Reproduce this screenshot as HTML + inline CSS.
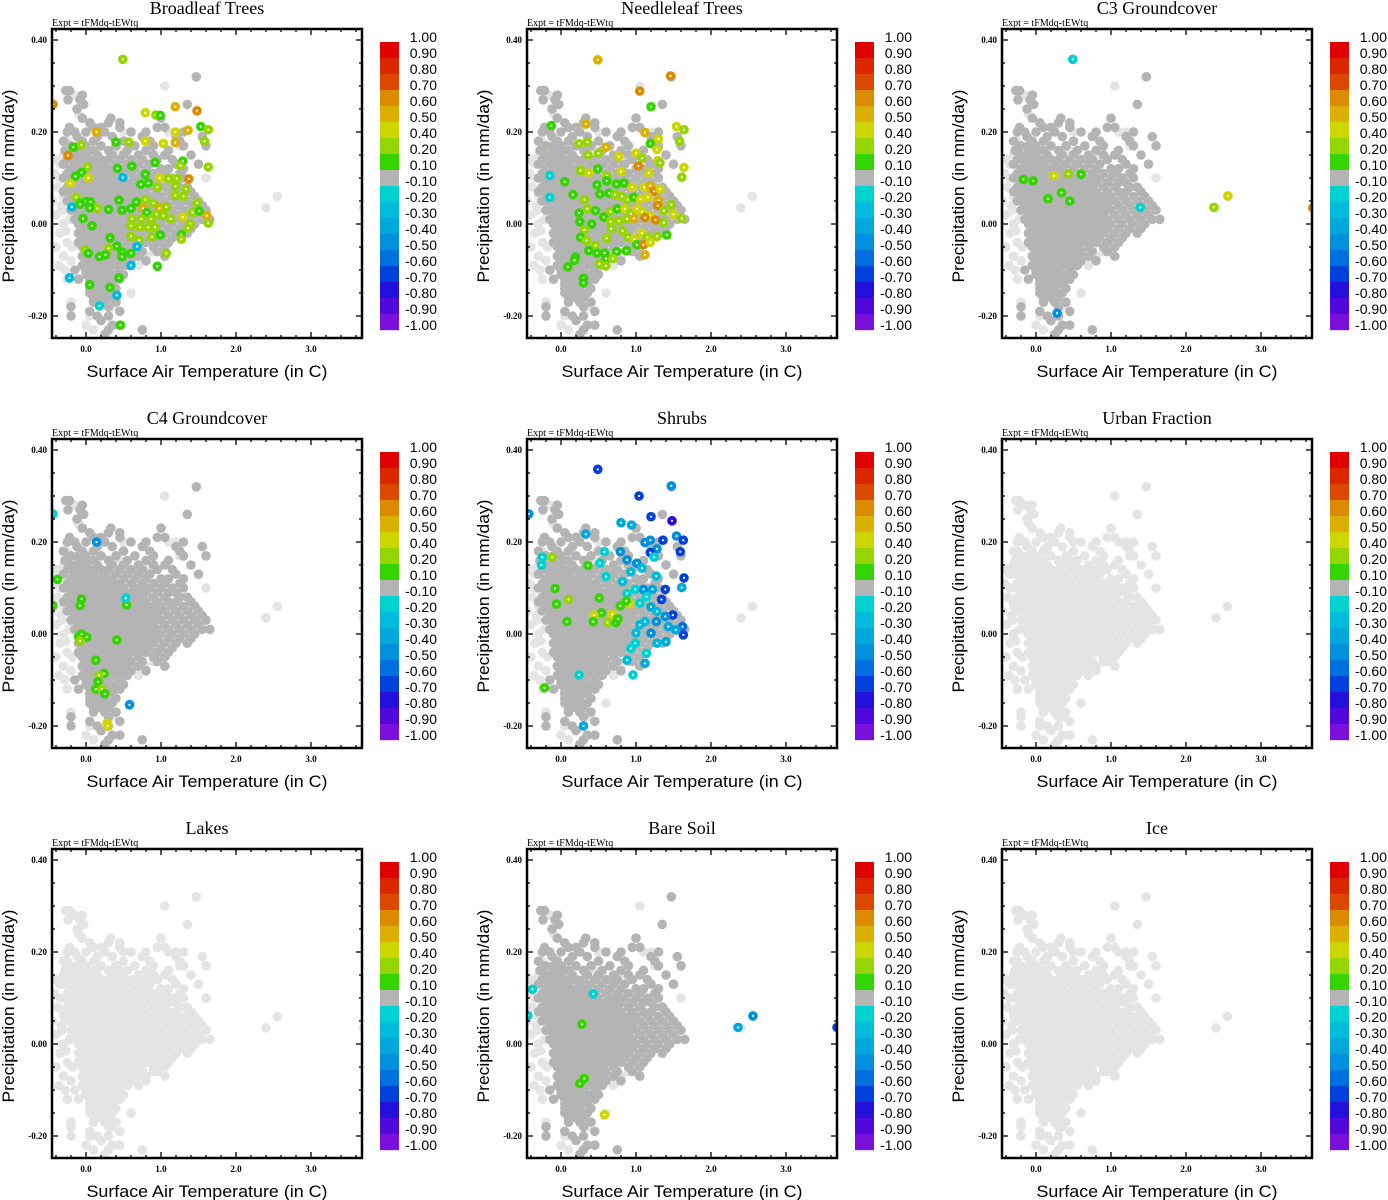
<!DOCTYPE html>
<html><head><meta charset="utf-8"><style>
html,body{margin:0;padding:0;background:#fff;}
svg{display:block;}
</style></head><body>
<svg id="fig" width="1388" height="1200" viewBox="0 0 1388 1200" xmlns="http://www.w3.org/2000/svg">
<defs><clipPath id="plotclip"><rect x="53" y="30" width="308" height="307"/></clipPath></defs>
</svg>
<script>
// ---------- shared point cloud (temperature x, precipitation y) ----------
const cloudY = [0.32,0.29,0.28,0.27,0.26,0.25,0.23,0.22,0.21,0.20,
0.19,0.18,0.17,0.16,0.15,0.14,0.13,0.12,0.11,0.10,0.09,0.08,0.07,0.06,0.05,0.04,0.03,0.02,0.01,0.00,
-0.01,-0.02,-0.03,-0.04,-0.05,-0.06,-0.07,-0.08,-0.09,-0.10,-0.11,-0.12,-0.13,-0.14,-0.15,-0.16,-0.17,-0.18,-0.19,-0.20,-0.21,-0.22,-0.23,-0.24];
const cloudX = [
[1.47],
[-0.27,-0.22],
[-0.05],
[-0.24,-0.08],
[-0.03,1.35],
[-0.12],
[0.33,-0.05,1.0],
[0.30,0.05,0.45],
[-0.22,0.1,0.2,0.45,0.95,1.05],
[-0.25,-0.15,0.0,0.25,0.6,0.8,1.3],
[-0.12,0.15,0.35,0.75,1.2,1.55],
[-0.3,-0.05,0.1,0.5,0.85,1.25],
[-0.2,-0.1,0.0,0.2,0.4,0.65,0.9,1.3,1.6],
[-0.28,-0.1,0.0,0.1,0.3,0.55,0.8,1.1],
[-0.2,-0.1,0.0,0.15,0.35,0.5,0.7,0.9,1.05,1.4],
[-0.25,-0.15,-0.05,0.05,0.15,0.2,0.3,0.45,0.6,0.75,0.95,1.15],
[-0.3,-0.15,-0.05,0.0,0.1,0.25,0.4,0.55,0.7,0.85,1.2,1.5],
[-0.2,-0.1,0.0,0.1,0.2,0.3,0.35,0.5,0.65,0.8,1.0,1.1,1.3],
[-0.25,-0.15,-0.05,0.05,0.15,0.25,0.35,0.45,0.6,0.75,0.9,1.05,1.25],
[-0.3,-0.2,-0.1,0.0,0.1,0.2,0.3,0.4,0.5,0.65,0.75,0.85,1.0,1.15,1.3],
[-0.2,-0.1,0.0,0.1,0.2,0.3,0.4,0.5,0.6,0.7,0.8,0.95,1.1,1.2],
[-0.25,-0.15,-0.05,0.05,0.15,0.25,0.35,0.45,0.55,0.65,0.75,0.9,1.05,1.25,1.35],
[-0.3,-0.2,-0.1,0.0,0.1,0.2,0.3,0.4,0.5,0.6,0.7,0.8,0.95,1.1,1.2,1.4],
[-0.2,-0.1,0.0,0.1,0.2,0.3,0.4,0.5,0.6,0.7,0.8,0.9,1.0,1.15,1.3,1.45],
[-0.25,-0.15,-0.05,0.05,0.15,0.25,0.35,0.45,0.55,0.65,0.75,0.85,0.95,1.05,1.2,1.35,1.5],
[-0.15,-0.05,0.05,0.15,0.25,0.35,0.45,0.55,0.65,0.75,0.85,0.95,1.1,1.25,1.4,1.55],
[-0.2,-0.1,0.0,0.1,0.2,0.3,0.4,0.5,0.6,0.7,0.8,0.9,1.0,1.15,1.3,1.45,1.6],
[-0.1,0.0,0.1,0.2,0.3,0.4,0.5,0.6,0.7,0.8,0.9,1.05,1.2,1.35,1.5],
[-0.15,-0.05,0.05,0.15,0.25,0.35,0.45,0.55,0.65,0.75,0.85,0.95,1.1,1.25,1.4,1.55,1.65],
[-0.1,0.0,0.1,0.2,0.3,0.4,0.5,0.6,0.7,0.8,0.9,1.0,1.15,1.3,1.45],
[-0.05,0.05,0.15,0.25,0.35,0.45,0.55,0.65,0.75,0.85,0.95,1.1,1.25,1.4],
[-0.1,0.0,0.1,0.2,0.3,0.4,0.5,0.6,0.7,0.8,0.9,1.05,1.2,1.35],
[-0.05,0.05,0.15,0.25,0.35,0.45,0.55,0.65,0.75,0.85,1.0,1.15],
[-0.1,0.0,0.1,0.2,0.3,0.4,0.5,0.6,0.7,0.8,0.95,1.1],
[-0.05,0.05,0.15,0.25,0.35,0.45,0.55,0.7,0.9,1.05],
[0.0,0.1,0.2,0.3,0.4,0.5,0.6,0.75,0.95],
[-0.05,0.05,0.15,0.25,0.35,0.45,0.55,0.7,1.05],
[0.0,0.1,0.2,0.3,0.4,0.5,0.6,0.8],
[-0.05,0.05,0.15,0.25,0.35,0.45,0.55],
[-0.15,0.0,0.1,0.2,0.3,0.45],
[0.0,0.1,0.2,0.3,0.4,0.5],
[-0.1,0.05,0.15,0.25,0.35,0.45],
[0.05,0.15,0.25,0.35],
[0.05,0.15,0.25,0.4],
[0.05,0.15,0.25,0.35],
[0.1,0.2,0.3],
[0.1,0.25,0.4],
[-0.2,0.3],
[0.05,0.45],
[-0.2,0.15,0.3],
[0.2],
[0.35,0.45],
[0.3,0.75],
[0.25]
];
const lightX = [-0.25,1.05,0.15,-0.35,-0.4,-0.3,-0.35,-0.25,-0.3,-0.2,-0.25,0.6,0.05,-0.45,0.6,0.8,0.9,1.0,1.5,1.1,0.9,2.4,2.55,3.7,0.5,1.2,0.85,-0.2,-0.15,-0.35,-0.3,-0.4,0.0,0.1,0.35,1.6,0.7,-0.1,-0.3,0.45,-0.32,-0.28,-0.38,-0.42,-0.36,-0.33,-0.4,-0.27,-0.22,-0.18,0.7,1.25];
const lightY = [0.18,0.30,0.19,0.13,0.02,0.0,-0.02,-0.04,-0.07,-0.08,-0.12,-0.15,-0.2,0.05,-0.07,-0.07,-0.06,-0.05,0.13,0.20,0.15,0.035,0.06,0.035,0.2,0.2,0.15,-0.17,0.28,0.1,0.06,-0.05,-0.22,-0.23,-0.18,0.1,0.14,0.24,0.15,0.16,0.03,-0.1,0.08,0.11,-0.09,0.04,0.14,-0.015,0.01,-0.05,-0.09,0.17];

// ---------- per-panel coloured points ----------
const broadX = [0.49,-0.44,0.79,0.93,0.99,1.19,1.48,1.53,1.63,0.14,1.19,1.36,1.58,0.79,0.57,0.40,-0.17,-0.06,-0.24,1.03,1.19,0.92,1.29,1.26,0.61,0.42,0.02,-0.06,-0.14,0.03,0.49,0.79,0.98,1.1,1.21,1.37,1.63,-0.21,0.83,0.73,0.95,1.19,1.33,-0.13,0.44,0.67,0.79,1.19,1.3,1.48,-0.08,0.0,0.06,0.15,0.3,0.48,0.6,0.76,0.9,0.98,1.07,-0.19,-0.08,0.05,0.81,0.94,1.03,1.13,1.29,1.42,1.51,1.61,1.63,-0.04,0.08,0.61,0.74,0.87,0.6,0.72,0.83,0.92,1.39,1.36,0.32,0.6,0.71,0.88,0.99,1.27,1.27,0.68,0.41,0.3,-0.01,0.03,0.18,0.26,0.48,0.48,0.6,1.07,0.6,0.95,-0.22,0.44,0.05,0.32,0.41,0.18,0.46];
const broadY = [0.358,0.26,0.242,0.237,0.236,0.255,0.246,0.212,0.205,0.2,0.2,0.204,0.18,0.18,0.178,0.178,0.167,0.172,0.149,0.175,0.177,0.134,0.137,0.127,0.126,0.121,0.124,0.112,0.104,0.1,0.101,0.108,0.1,0.099,0.099,0.098,0.124,0.088,0.089,0.086,0.08,0.082,0.076,0.058,0.052,0.048,0.053,0.062,0.06,0.046,0.045,0.049,0.048,0.034,0.032,0.03,0.034,0.034,0.045,0.034,0.037,0.037,0.043,0.035,0.025,0.021,0.018,0.011,0.015,0.025,0.028,0.018,0.002,0.012,-0.004,0.011,0.011,0.011,-0.004,-0.007,-0.007,-0.007,0.0,-0.009,-0.03,-0.027,-0.035,-0.028,-0.024,-0.023,-0.033,-0.049,-0.048,-0.053,-0.056,-0.064,-0.071,-0.067,-0.061,-0.071,-0.064,-0.064,-0.09,-0.092,-0.117,-0.117,-0.132,-0.138,-0.155,-0.178,-0.22];
const broadV = [0.3,0.6,0.4,0.2,0.1,0.5,0.6,0.1,0.2,0.5,0.4,0.5,0.3,0.4,0.3,0.1,0.1,0.2,0.6,0.4,0.5,0.1,0.1,0.3,0.1,0.1,0.2,0.1,0.1,0.4,-0.3,0.1,0.4,0.2,0.2,0.6,0.2,0.4,0.1,0.1,0.2,0.3,0.2,0.3,0.1,0.1,0.2,0.2,0.3,0.2,0.1,0.1,0.1,0.3,0.1,0.1,0.1,0.5,0.3,0.5,0.2,-0.3,0.1,0.1,0.1,0.2,0.3,0.2,0.4,0.3,0.1,0.5,0.2,0.1,0.1,0.2,0.2,0.2,0.3,0.2,0.3,0.2,0.2,0.2,0.1,0.3,0.3,0.2,0.1,0.1,0.2,-0.3,0.1,0.3,0.3,0.1,0.1,0.1,0.1,0.1,0.1,0.3,-0.3,0.1,-0.3,0.1,0.1,0.1,-0.3,-0.2,0.1];

const needleX = [0.49,1.46,1.05,1.2,-0.13,0.33,1.12,1.54,1.64,1.58,1.30,1.19,1.28,0.24,0.35,0.60,0.5,0.36,0.77,1.0,1.08,1.29,1.32,1.03,1.64,1.61,1.17,0.26,0.37,0.49,0.61,0.80,0.48,0.61,0.74,0.84,0.95,1.11,1.19,1.24,1.32,0.05,0.16,0.31,0.52,0.64,0.72,0.81,0.89,0.97,1.06,1.16,1.3,1.29,1.37,1.47,1.50,1.61,0.35,0.24,0.46,0.57,0.66,0.75,0.85,0.93,1.01,1.08,1.18,0.25,0.41,0.66,0.77,0.88,0.97,1.12,1.26,1.37,0.31,0.67,0.82,0.89,0.98,1.08,1.15,1.28,1.41,0.26,0.34,0.46,0.61,1.01,1.1,1.19,0.37,0.48,0.58,0.74,0.87,1.12,0.19,0.18,0.6,0.69,0.09,0.51,0.6,0.30,0.30,-0.15,-0.15];
const needleY = [0.357,0.322,0.289,0.255,0.214,0.217,0.199,0.212,0.205,0.18,0.185,0.175,0.162,0.175,0.178,0.167,0.154,0.15,0.147,0.154,0.143,0.138,0.133,0.126,0.123,0.102,0.111,0.116,0.111,0.12,0.105,0.114,0.085,0.094,0.087,0.089,0.08,0.08,0.083,0.071,0.076,0.092,0.064,0.053,0.065,0.067,0.064,0.06,0.053,0.058,0.054,0.058,0.051,0.04,0.029,0.042,0.021,0.012,0.033,0.024,0.029,0.015,0.027,0.033,0.033,0.022,0.033,0.027,0.018,0.005,0.0,0.005,0.007,0.011,0.012,0.014,0.009,0.003,-0.013,-0.01,-0.015,-0.029,-0.033,-0.02,-0.029,-0.027,-0.024,-0.029,-0.036,-0.047,-0.031,-0.045,-0.045,-0.04,-0.058,-0.063,-0.063,-0.06,-0.058,-0.067,-0.072,-0.079,-0.075,-0.075,-0.093,-0.087,-0.091,-0.118,-0.128,0.105,0.058];
const needleV = [0.5,0.6,0.6,0.1,0.1,0.5,0.5,0.4,0.2,0.2,0.4,0.1,0.4,0.2,0.2,0.5,0.2,0.2,0.4,0.4,0.2,0.4,0.2,0.6,0.4,0.2,0.4,0.2,0.4,0.1,0.2,0.4,0.1,0.1,0.1,0.1,0.4,0.4,0.5,0.6,0.4,0.1,0.1,0.2,0.1,0.1,0.2,0.3,0.2,0.1,0.4,0.4,0.5,0.6,0.2,0.2,0.4,0.2,0.3,0.1,0.1,0.1,0.2,0.1,0.4,0.3,0.4,0.4,0.4,0.1,0.1,0.2,0.3,0.2,0.5,0.6,0.6,0.3,0.2,0.2,0.2,0.2,0.4,0.4,0.2,0.2,0.1,0.1,0.2,0.2,0.2,0.1,0.6,0.4,0.1,0.1,0.1,0.1,0.1,0.5,0.1,0.1,0.1,0.2,0.1,0.2,0.2,0.1,0.1,-0.2,-0.2];

const c3X = [0.49,-0.17,-0.04,0.24,0.43,0.6,0.16,0.34,0.45,1.39,2.37,2.56,3.69,0.28];
const c3Y = [0.358,0.097,0.094,0.105,0.109,0.108,0.055,0.068,0.05,0.036,0.036,0.061,0.035,-0.194];
const c3V = [-0.2,0.1,0.1,0.4,0.3,0.1,0.1,0.1,0.1,-0.2,0.3,0.4,0.6,-0.5];

const c4X = [-0.44,0.14,-0.38,-0.44,-0.06,-0.08,0.54,0.53,-0.1,-0.06,0.01,-0.08,0.41,0.13,0.24,0.17,0.16,0.13,0.21,0.25,0.58,0.28,0.29];
const c4Y = [0.261,0.2,0.119,0.062,0.076,0.062,0.063,0.078,-0.006,0.0,-0.007,-0.015,-0.013,-0.057,-0.086,-0.09,-0.104,-0.12,-0.12,-0.13,-0.154,-0.194,-0.2];
const c4V = [-0.2,-0.5,0.1,0.1,0.1,0.1,0.1,-0.2,0.1,0.1,0.1,0.3,0.1,0.1,0.1,0.3,0.1,0.1,0.3,0.1,-0.5,0.4,0.4];

const shrubX = [0.49,1.47,1.04,1.2,1.48,-0.43,0.8,0.94,0.33,1.12,1.19,1.36,1.54,1.63,1.28,1.59,0.58,0.79,0.88,1.19,0.52,1.24,1.01,1.08,1.27,1.39,1.61,1.64,0.93,0.82,0.99,1.1,1.14,1.22,1.34,0.88,1.05,1.2,1.28,1.49,1.39,1.62,1.63,1.53,1.43,1.27,1.12,1.05,1.0,1.2,1.4,1.28,1.14,0.99,0.93,0.88,0.96,1.12,0.6,-0.25,-0.26,0.3,0.24,-0.12,0.36,-0.08,0.1,-0.06,0.51,0.79,0.92,0.87,0.54,0.44,0.68,0.08,0.43,0.62,0.73,0.76,-0.22];
const shrubY = [0.358,0.322,0.3,0.255,0.246,0.261,0.242,0.237,0.217,0.199,0.204,0.204,0.213,0.204,0.185,0.179,0.179,0.179,0.161,0.177,0.154,0.167,0.154,0.143,0.126,0.097,0.101,0.122,0.135,0.114,0.097,0.097,0.081,0.097,0.075,0.088,0.067,0.059,0.049,0.041,0.038,0.016,-0.002,0.009,0.016,0.027,0.027,0.02,0.002,0.002,-0.017,-0.02,-0.042,-0.02,-0.031,-0.057,-0.089,-0.064,0.125,0.167,0.15,-0.2,-0.089,0.167,0.149,0.099,0.075,0.065,0.078,0.061,0.065,0.072,0.046,0.041,0.043,0.027,0.027,0.025,0.025,0.033,-0.117];
const shrubV = [-0.7,-0.5,-0.7,-0.7,-0.8,-0.5,-0.4,-0.4,-0.4,-0.5,-0.5,-0.7,-0.5,-0.7,-0.5,-0.7,-0.2,-0.5,-0.5,-0.7,-0.2,-0.2,-0.5,-0.3,-0.3,-0.7,-0.4,-0.7,-0.3,-0.3,-0.2,-0.5,-0.2,-0.4,-0.7,-0.2,-0.2,-0.4,-0.3,-0.7,-0.5,-0.6,-0.7,-0.4,-0.4,-0.5,-0.3,-0.3,-0.3,-0.5,-0.4,-0.3,-0.2,-0.2,-0.2,-0.3,-0.2,-0.4,-0.2,-0.2,-0.2,-0.4,-0.2,0.3,0.1,0.1,0.3,0.1,0.1,0.1,0.4,0.1,0.1,0.4,0.4,0.1,0.1,0.3,0.1,0.1,0.1];

const bareX = [-0.38,-0.44,0.43,0.28,0.31,0.25,0.58,2.36,2.56,3.68];
const bareY = [0.119,0.062,0.109,0.043,-0.075,-0.086,-0.154,0.036,0.061,0.036];
const bareV = [-0.2,-0.2,-0.2,0.1,0.1,0.1,0.4,-0.4,-0.5,-0.7];

const emptyArr = [];
const panelTitles = ["Broadleaf Trees","Needleleaf Trees","C3 Groundcover","C4 Groundcover","Shrubs","Urban Fraction","Lakes","Bare Soil","Ice"];

// ---------- colour scale ----------
const cbLabels = ["1.00","0.90","0.80","0.70","0.60","0.50","0.40","0.20","0.10","-0.10","-0.20","-0.30","-0.40","-0.50","-0.60","-0.70","-0.80","-0.90","-1.00"];
const cbBounds = [1.0,0.9,0.8,0.7,0.6,0.5,0.4,0.2,0.1,-0.1,-0.2,-0.3,-0.4,-0.5,-0.6,-0.7,-0.8,-0.9,-1.0];
const cbColors = ["#e00000","#dc2600","#dc4800","#dc8a00","#dcb000","#cdd600","#96d600","#33d400","#b4b4b4","#00d2d2","#00bcdc","#00a8dc","#0090de","#0070de","#0040dc","#2410dc","#5008dc","#7a10dc"];

// ---------- axes ----------
const xTicks = [0,1,2,3];
const xTickLabels = ["0.0","1.0","2.0","3.0"];
const yTicks = [-0.2,0,0.2,0.4];
const yTickLabels = ["-0.20","0.00","0.20","0.40"];

const NS = "http://www.w3.org/2000/svg";
const svg = document.getElementById('fig');
function mk(tag, attrs, parent){ const e=document.createElementNS(NS,tag); for(const k in attrs) e.setAttribute(k,attrs[k]); if(parent) parent.appendChild(e); return e; }
const sx = v => 86 + 75*v;
const sy = v => 224 - 460*v;
function colorFor(v){
  for(let i=0;i<cbColors.length;i++){ if(v >= cbBounds[i+1] && v < cbBounds[i]) return cbColors[i]; }
  return v >= 1 ? cbColors[0] : cbColors[cbColors.length-1];
}
function dot(g, x, y, fill, name, center){
  const c = mk('circle',{cx:sx(x).toFixed(1),cy:sy(y).toFixed(1),r:4.8,fill:fill},g);
  
  
  if(center) mk('circle',{cx:sx(x).toFixed(1),cy:sy(y).toFixed(1),r:1.1,fill:'#ffffff'},g);
}

const panels = [
  {xs:broadX, ys:broadY, vs:broadV, allLight:false},
  {xs:needleX, ys:needleY, vs:needleV, allLight:false},
  {xs:c3X, ys:c3Y, vs:c3V, allLight:false},
  {xs:c4X, ys:c4Y, vs:c4V, allLight:false},
  {xs:shrubX, ys:shrubY, vs:shrubV, allLight:false},
  {xs:emptyArr, ys:emptyArr, vs:emptyArr, allLight:true},
  {xs:emptyArr, ys:emptyArr, vs:emptyArr, allLight:true},
  {xs:bareX, ys:bareY, vs:bareV, allLight:false},
  {xs:emptyArr, ys:emptyArr, vs:emptyArr, allLight:true}
];

panels.forEach((p, idx) => {
  const dx = (idx%3)*475, dy = Math.floor(idx/3)*410;
  const slug = panelTitles[idx].toLowerCase().replace(/\s+/g,'-');
  const g = mk('g',{transform:`translate(${dx},${dy})`},svg);
  
  

  const t = mk('text',{x:207,y:14,'text-anchor':'middle','font-family':'"Liberation Serif", serif','font-size':18,fill:'#000'},g);
  t.textContent = panelTitles[idx];
  
  
  const ex = mk('text',{x:52,y:26,'font-family':'"Liberation Serif", serif','font-size':10,fill:'#000'},g);
  ex.textContent = 'Expt = tFMdq-tEWtq';
  
  

  const pg = mk('g',{'clip-path':'url(#plotclip)'},g);
  
  
  const lightC = '#e4e4e4', darkC = p.allLight ? '#e4e4e4' : '#b4b4b4';
  for(let i=0;i<lightX.length;i++) dot(pg, lightX[i], lightY[i], lightC, 'point-no-cover', false);
  const nRows = Math.min(cloudY.length, cloudX.length);
  for(let r=0;r<nRows;r++) for(const x of cloudX[r]) dot(pg, x, cloudY[r], darkC, 'point-neutral', false);
  for(let i=0;i<p.xs.length;i++) dot(pg, p.xs[i], p.ys[i], colorFor(p.vs[i]), 'point-colored', true);

  const fr = mk('rect',{x:52,y:29,width:310,height:309,fill:'none',stroke:'#000','stroke-width':2.5},g);
  
  

  const tg = mk('g',{stroke:'#000','stroke-width':1.3},g);
  for(let k=-2;k<=18;k++){ const v=k*0.2; const X=sx(v); if(X<53||X>361) continue; const major = k%5===0; const L = major?6:3;
    mk('line',{x1:X,y1:338,x2:X,y2:338-L},tg); mk('line',{x1:X,y1:29,x2:X,y2:29+L},tg); }
  for(let k=-4;k<=8;k++){ const v=k*0.05; const Y=sy(v); if(Y<30||Y>337) continue; const major = k%4===0; const L = major?6:3;
    mk('line',{x1:52,y1:Y,x2:52+L,y2:Y},tg); mk('line',{x1:362,y1:Y,x2:362-L,y2:Y},tg); }
  xTicks.forEach((v,i)=>{ const tx=mk('text',{x:sx(v),y:352,'text-anchor':'middle','font-family':'"Liberation Serif", serif','font-size':9,'font-weight':'bold',fill:'#000'},g); tx.textContent=xTickLabels[i];
      });
  yTicks.forEach((v,i)=>{ const ty=mk('text',{x:47,y:sy(v)+3,'text-anchor':'end','font-family':'"Liberation Serif", serif','font-size':9,'font-weight':'bold',fill:'#000'},g); ty.textContent=yTickLabels[i];
      });

  const xt = mk('text',{x:207,y:377,'text-anchor':'middle','font-family':'"Liberation Sans", sans-serif','font-size':17,textLength:241,lengthAdjust:'spacingAndGlyphs',fill:'#000'},g);
  xt.textContent = 'Surface Air Temperature (in C)';
  
  
  const yt = mk('text',{x:0,y:0,transform:'translate(14,186) rotate(-90)','text-anchor':'middle','font-family':'"Liberation Sans", sans-serif','font-size':17,textLength:193,lengthAdjust:'spacingAndGlyphs',fill:'#000'},g);
  yt.textContent = 'Precipitation (in mm/day)';
  
  

  const cb = mk('g',{},g);
  
  
  cbColors.forEach((c,i)=>{ const r=mk('rect',{x:380,y:42+16*i,width:19,height:16.2,fill:c},cb);
      });
  cbLabels.forEach((l,i)=>{ const tl=mk('text',{x:437,y:42+16*i,'text-anchor':'end','font-family':'"Liberation Sans", sans-serif','font-size':14,fill:'#000'},cb); tl.textContent=l;
      });
});
</script>
</body></html>
